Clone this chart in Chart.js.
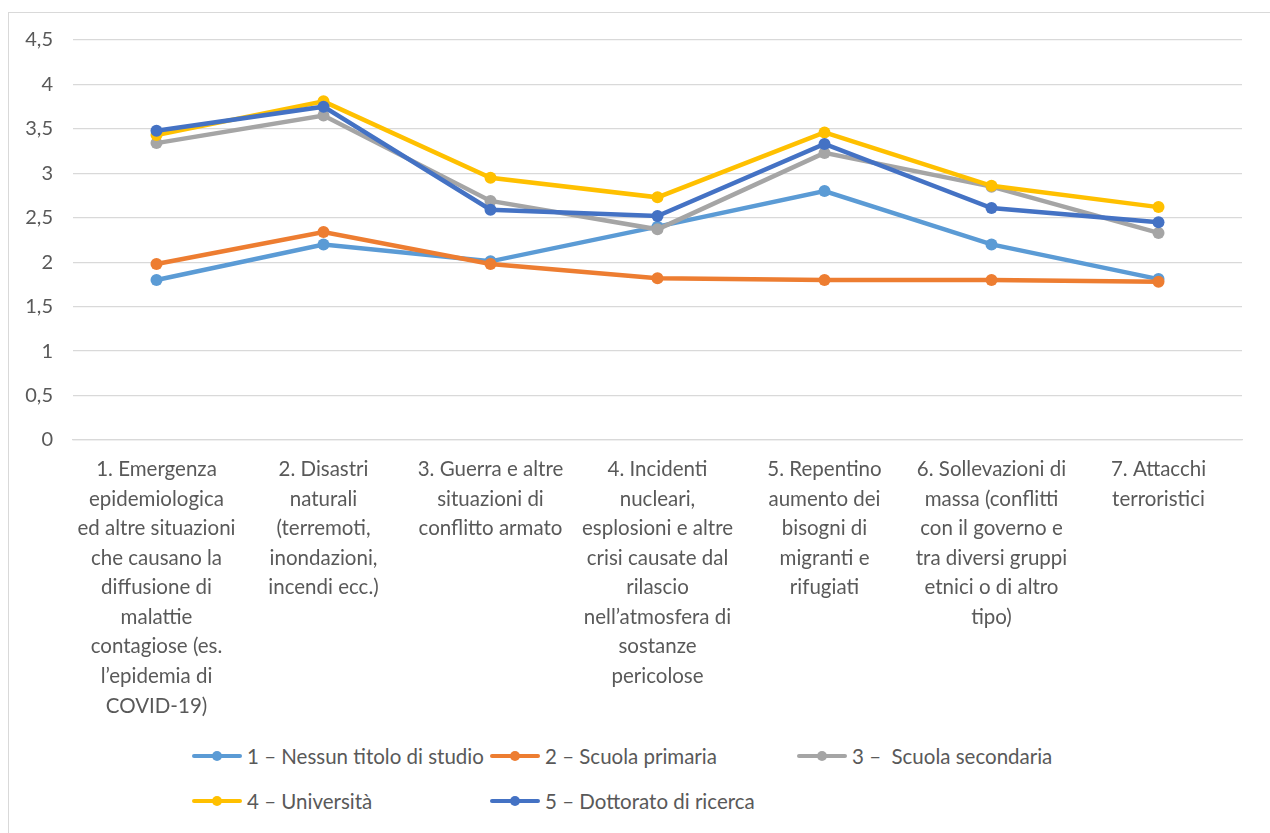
<!DOCTYPE html>
<html>
<head>
<meta charset="utf-8">
<script src="https://cdn.jsdelivr.net/npm/chart.js@4/dist/chart.umd.min.js"></script>
<style>
  body { margin: 0; background: #fff; font-family: Lato, sans-serif; }
  #wrap { position: relative; width: 1270px; height: 833px; overflow: hidden; }
  #frame { position: absolute; left: 8px; top: 12px; width: 1300px; height: 900px; border: 1px solid #d9d9d9; }
  #chartBox { position: absolute; left: 0; top: 0; width: 1270px; height: 740px; }
  .leg { position: absolute; height: 20px; display: flex; align-items: center; color: #595959; font-size: 20.5px; white-space: pre; }
  .leg .mk { position: relative; width: 50px; height: 20px; margin-right: 5px; }
  .leg .mk .ln { position: absolute; left: 0; right: 0; top: 8px; height: 4px; border-radius: 2px; }
  .leg .mk .dt { position: absolute; left: 20px; top: 5px; width: 10px; height: 10px; border-radius: 50%; }
</style>
</head>
<body>
<div id="wrap">
  <div id="frame"></div>
  <div id="chartBox"><canvas id="lineChart" width="1270" height="740"></canvas></div>
  <div id="legend"></div>
</div>
<script>
// Categories (multi-line labels as in the original)
const categories = [
  ['1. Emergenza', 'epidemiologica', 'ed altre situazioni', 'che causano la', 'diffusione di', 'malattie', 'contagiose (es.', 'l’epidemia di', 'COVID-19)'],
  ['2. Disastri', 'naturali', '(terremoti,', 'inondazioni,', 'incendi ecc.)'],
  ['3. Guerra e altre', 'situazioni di', 'conflitto armato'],
  ['4. Incidenti', 'nucleari,', 'esplosioni e altre', 'crisi causate dal', 'rilascio', 'nell’atmosfera di', 'sostanze', 'pericolose'],
  ['5. Repentino', 'aumento dei', 'bisogni di', 'migranti e', 'rifugiati'],
  ['6. Sollevazioni di', 'massa (conflitti', 'con il governo e', 'tra diversi gruppi', 'etnici o di altro', 'tipo)'],
  ['7. Attacchi', 'terroristici']
];

const seriesNames = [
  '1 – Nessun titolo di studio',
  '2 – Scuola primaria',
  '3 –  Scuola secondaria',
  '4 – Università',
  '5 – Dottorato di ricerca'
];

const nessunTitolo = [1.80, 2.20, 2.01, 2.40, 2.80, 2.20, 1.81];
const primaria     = [1.98, 2.34, 1.98, 1.82, 1.80, 1.80, 1.78];
const secondaria   = [3.34, 3.65, 2.69, 2.37, 3.23, 2.85, 2.33];
const universita   = [3.43, 3.81, 2.95, 2.73, 3.46, 2.86, 2.62];
const dottorato    = [3.48, 3.75, 2.59, 2.52, 3.33, 2.61, 2.45];

const yTicks = [0, 0.5, 1, 1.5, 2, 2.5, 3, 3.5, 4, 4.5];

const colors = ['#5B9BD5', '#ED7D31', '#A5A5A5', '#FFC000', '#4472C4'];
const seriesData = [nessunTitolo, primaria, secondaria, universita, dottorato];

const datasets = seriesData.map((d, i) => ({
  label: seriesNames[i],
  data: d,
  borderColor: colors[i],
  backgroundColor: colors[i],
  borderWidth: 4.5,
  pointRadius: 6,
  pointHoverRadius: 6,
  pointBorderWidth: 0,
  tension: 0,
  order: 5 - i // later series drawn on top, like the original
}));

const chart = new Chart(document.getElementById('lineChart'), {
  type: 'line',
  data: { labels: categories, datasets: datasets },
  options: {
    responsive: false,
    animation: false,
    layout: { padding: { top: 40, right: 28, left: 0, bottom: 0 } },
    plugins: { legend: { display: false }, tooltip: { enabled: false } },
    scales: {
      x: {
        offset: true,
        grid: { display: false, drawTicks: false },
        border: { color: '#d9d9d9', width: 1.3 },
        ticks: {
          color: '#595959',
          padding: 15,
          maxRotation: 0,
          autoSkip: false,
          font: { family: 'Lato', size: 20.5, lineHeight: 1.44 }
        },
        afterFit(scale) { scale.height = 300; }
      },
      y: {
        min: 0,
        max: 4.5,
        afterBuildTicks(scale) { scale.ticks = yTicks.map(v => ({ value: v })); },
        grid: { color: '#d9d9d9', lineWidth: 1.3, drawTicks: false },
        border: { display: false },
        ticks: {
          color: '#595959',
          padding: 20,
          font: { family: 'Lato', size: 20 },
          callback: v => String(v).replace('.', ',')
        },
        afterFit(scale) { scale.width = 73; }
      }
    }
  }
});

// HTML legend laid out in columns like the original
const legendPos = [[192, 746], [490, 746], [797, 746], [192, 791], [490, 791]];
const legendEl = document.getElementById('legend');
chart.data.datasets.forEach((ds, i) => {
  const item = document.createElement('div');
  item.className = 'leg';
  item.style.left = legendPos[i][0] + 'px';
  item.style.top = legendPos[i][1] + 'px';
  item.innerHTML = '<div class="mk"><div class="ln" style="background:' + ds.borderColor +
    '"></div><div class="dt" style="background:' + ds.borderColor + '"></div></div><span></span>';
  item.querySelector('span').textContent = ds.label;
  legendEl.appendChild(item);
});
</script>
</body>
</html>
